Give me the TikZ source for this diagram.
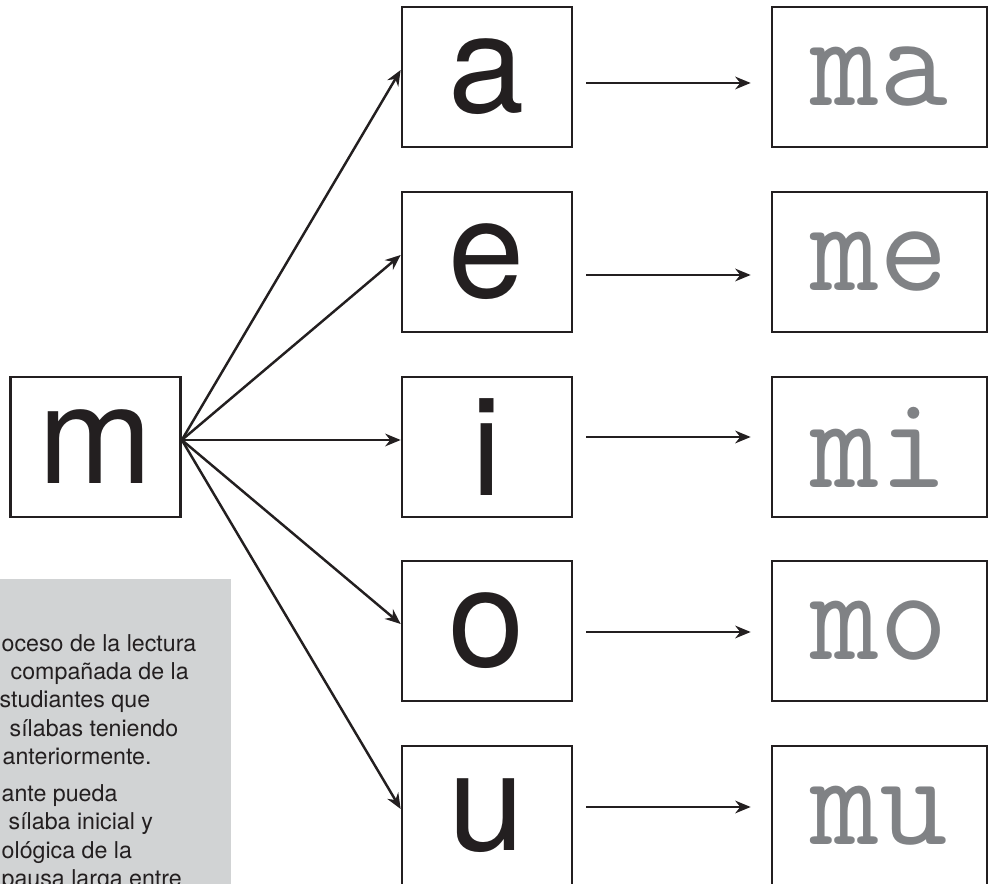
\documentclass[tikz,border=0pt]{standalone}
\usepackage{fontspec}
\usepackage{tikz}
\usetikzlibrary{arrows.meta,positioning,calc}
\newfontfamily\heros{TeX Gyre Heros}
\definecolor{notegray}{RGB}{209,211,212}
\definecolor{sylgray}{RGB}{128,130,133}
\definecolor{ink}{RGB}{35,31,32}

\begin{document}
\begin{tikzpicture}[>={Stealth[length=4.4pt,width=3.6pt]},
  letterbox/.style={draw=ink, line width=0.75pt, minimum width=1.70cm, minimum height=1.40cm,
    inner sep=0pt, text=ink, font=\heros\fontsize{39}{39}\selectfont},
  sylbox/.style={draw=ink, line width=0.75pt, minimum width=2.15cm, minimum height=1.40cm,
    inner sep=0pt, text=sylgray, font=\ttfamily\fontsize{38}{38}\selectfont},
  link/.style={->, draw=ink, line width=0.7pt}]
  \useasboundingbox (0,0) rectangle (9.88,8.84);

  % note box, cut by the page edge
  \fill[notegray] (0,0) rectangle (2.31,3.05);
  \foreach \txt/\x/\y [count=\i] in {oceso de la lectura/0.01/2.32, compañada de la/0.10/2.04,
      studiantes que/-0.01/1.76, sílabas teniendo/0.09/1.47, anteriormente./0.02/1.19,
      ante pueda/0.01/0.82, sílaba inicial y/0.08/0.54, ológica de la/0.01/0.26,
      pausa larga entre/0.01/-0.03}
    \node[anchor=base west, inner sep=0pt, text=ink, font=\heros\fontsize{6.6}{8}\selectfont]
      (note\i) at (\x,\y) {\txt};

  % consonant
  \node[letterbox] (m) at (0.955,4.37) {m};

  % vowels and syllables
  \foreach \vw/\y/\dy in {a/8.07/-0.06, e/6.22/-0.13, i/4.37/0.10, o/2.53/-0.01, u/0.68/0.09} {
    \node[letterbox] (\vw) at (4.87,\y) {\vw};
    \node[sylbox] (m\vw) at (8.795,\y) {m\vw};
    \draw[link] ([yshift=0.07cm]m.east) -- ([yshift=0.07cm]\vw.west);
    \draw[link, shorten <=0.13cm, shorten >=0.2cm] ([yshift=\dy cm]\vw.east) -- ([yshift=\dy cm]m\vw.west);
  }
\end{tikzpicture}
\end{document}
